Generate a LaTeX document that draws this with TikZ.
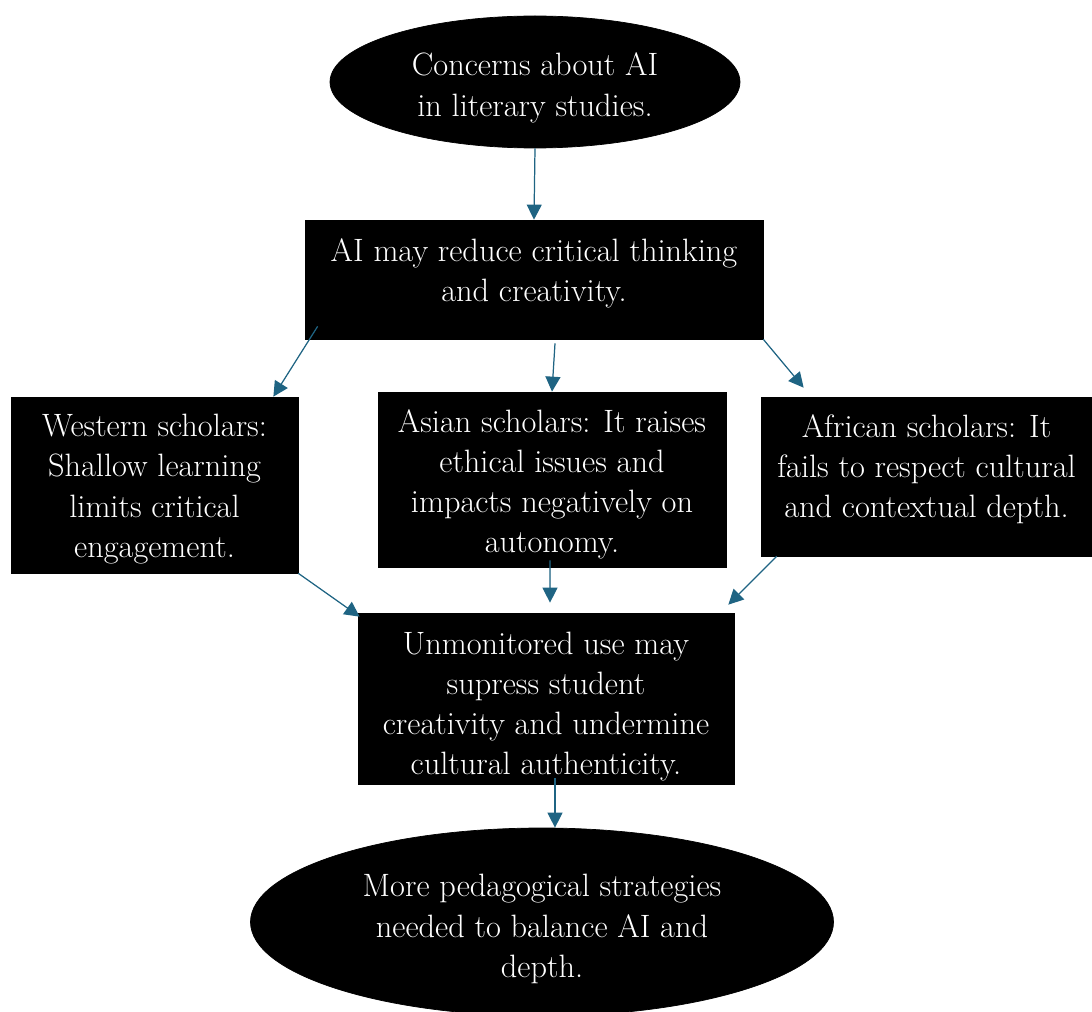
\documentclass[tikz,border=0pt]{standalone}
\usepackage{xcolor}
\usepackage{tikz}
\usetikzlibrary{arrows.meta,shapes.geometric}
\definecolor{arrowblue}{RGB}{31,100,131}
% text block moved up or down inside its shape
\newcommand{\shiftlines}[2]{\raisebox{#1}[\height][\depth]{\begin{tabular}{@{}c@{}}#2\end{tabular}}}

\begin{document}
\begin{tikzpicture}[
  box/.style={draw=black, fill=black, text=white, rectangle, align=center,
              inner sep=2pt, font=\fontsize{18.4}{22.8}\selectfont},
  oval/.style={draw=black, fill=black, text=white, ellipse, align=center,
               inner sep=0pt, font=\fontsize{18.4}{22.8}\selectfont},
  arrow/.style={-{Triangle[length=0.3cm, width=0.3cm]}, draw=arrowblue,
                fill=arrowblue, line width=0.7pt},
]
  \useasboundingbox (0,0) rectangle (21.84,-20.24);

  % Nodes
  \node[oval, minimum width=8.2cm, minimum height=2.64cm] (top) at (10.7,-1.64)
    {\shiftlines{-0.12cm}{Concerns about AI\\in literary studies.}};
  \node[box, minimum width=9.16cm, minimum height=2.38cm] (red) at (10.68,-5.59)
    {\shiftlines{0.12cm}{AI may reduce critical thinking\\and creativity.}};
  \node[box, minimum width=5.74cm, minimum height=3.52cm] (west) at (3.09,-9.7)
    {\shiftlines{-0.08cm}{Western scholars:\\Shallow learning\\limits critical\\engagement.}};
  \node[box, minimum width=6.96cm, minimum height=3.5cm] (asia) at (11.04,-9.59)
    {\shiftlines{-0.1cm}{Asian scholars: It raises\\ethical issues and\\impacts negatively on\\autonomy.}};
  \node[box, minimum width=6.62cm, minimum height=3.18cm] (africa) at (18.53,-9.53)
    {\shiftlines{0.14cm}{African scholars: It\\fails to respect cultural\\and contextual depth.}};
  \node[box, minimum width=7.52cm, minimum height=3.42cm] (unmon) at (10.92,-13.97)
    {\shiftlines{-0.16cm}{Unmonitored use may\\supress student\\creativity and undermine\\cultural authenticity.}};
  \node[oval, minimum width=11.66cm, minimum height=3.76cm] (more) at (10.84,-18.44)
    {\shiftlines{-0.14cm}{More pedagogical strategies\\needed to balance AI and\\depth.}};

  % Arrows
  \draw[arrow] (top.south) -- (red.north);
  \draw[arrow] ([shift={(0.26,0.26)}]red.south west) -- ([xshift=-0.5cm]west.north east);
  \draw[arrow] ([shift={(0.42,-0.08)}]red.south) -- (asia.north);
  \draw[arrow] (red.south east) -- ([shift={(0.86,0.18)}]africa.north west);
  \draw[arrow] (west.south east) -- ([shift={(0.04,-0.08)}]unmon.north west);
  \draw[arrow] ([shift={(-0.04,0.14)}]asia.south) -- ([shift={(0.08,0.2)}]unmon.north);
  \draw[arrow] ([xshift=0.32cm]africa.south west) -- ([shift={(-0.12,0.16)}]unmon.north east);
  \draw[arrow] ([shift={(0.18,0.12)}]unmon.south) -- ([xshift=0.26cm]more.north);
\end{tikzpicture}
\end{document}
